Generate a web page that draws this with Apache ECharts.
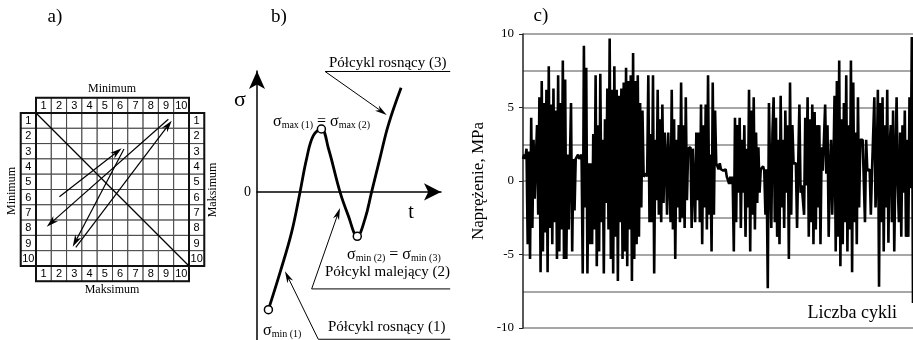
<!DOCTYPE html>
<html>
<head>
<meta charset="utf-8">
<script src="https://cdn.jsdelivr.net/npm/echarts@6.0.0/dist/echarts.min.js"></script>
<style>
  html, body { margin: 0; padding: 0; background: #fff; }
  #chart { width: 913px; height: 340px; }
</style>
</head>
<body>
<div id="chart"></div>
<script>
var SERIF = '"Liberation Serif", "Times New Roman", serif';
var SANS = '"Liberation Sans", Arial, sans-serif';

// a) rainflow matrix: labels 1..10 and the loop path (cell units)
var matrixLabels = ['1', '2', '3', '4', '5', '6', '7', '8', '9', '10'];
var matrixArrows = [
  [1.53, 5.47, 5.60, 2.31, 1],
  [5.75, 2.35, 2.40, 8.74, 1],
  [2.60, 8.78, 8.87, 0.50, 1],
  [8.65, 0.41, 0.70, 7.43, 1],
  [0, 0, 10, 10, 0]
];
var matrixBlocks = [
  [0, 0, 10, 10],
  [0, -1, 10, 0],
  [0, 10, 10, 11],
  [-1, 0, 0, 10],
  [10, 0, 11, 10]
];

// b) half-cycles sketch
var cycleT = [0.62, 1.25, 1.88, 2.34, 2.70, 3.06, 3.50, 3.88, 4.51, 4.96, 5.45, 5.87, 6.23, 6.68, 7.14, 7.83];
var cycleSigma = [-4.77, -3.27, -1.64, 0, 1.36, 2.28, 2.55, 1.77, 0, -0.96, -1.80, -1.09, 0, 1.36, 2.72, 4.22];
var extremaT = [0.62, 3.50, 5.45];
var extremaSigma = [-4.77, 2.55, -1.80];
var leaderLines = [
  [3.70, 4.88, 10.5, 4.88, 0],
  [3.70, 4.88, 7.05, 3.12, 1],
  [2.97, -3.93, 10.5, -3.93, 0],
  [2.97, -3.93, 4.51, -0.65, 1],
  [3.33, -5.97, 10.5, -5.97, 0],
  [3.33, -5.97, 1.52, -3.21, 1]
];

// c) measured stress history, MPa
var stressValues = [
  1.5, 1.8, 1.5, 2.2, -4.3, 2.0, -5.3, 4.3, -3.2, 2.8, -1.2, 1.5,
  3.8, -2.3, 5.7, -6.2, 6.8, -4.8, 5.3, -3.5, 6.2, -6.2, 7.8, -3.2, 5.2, -4.3, 6.3, -2.8, 4.8, -5.3, 7.2, -4.8, 5.3, -3.3, 8.2,
  -5.3, 6.9, -5.3, 1.8, -3.3, 1.2, 5.3, -4.8, 1.5, -2.0,
  1.5, 1.5, 1.8, 1.5, 1.5, 1.8,
  -6.3, 9.2, -1.8, 7.7, -6.3, 1.2,
  -4.3, 1.2, -4.3, 3.2, -3.3, 7.2, -5.8, 3.8, -4.8, 7.3, -2.8, 2.8, -6.3, 4.2, -1.5, 6.3, -3.3,
  9.7, -5.3, 6.2, -6.3, 7.8, -3.8, 6.2, -6.8, 5.8, -2.8, 6.3, -5.3, 6.7, -4.8, 7.7, -5.8, 6.8, -3.3, 7.2, -6.8, 8.7, -5.3, 6.8, -4.3, 7.2, -3.8, 5.3, -1.8, 4.8,
  0.3, 0.3, 0.5, 0.3,
  7.2, -2.8, 3.2, -2.8, 7.2, -6.3, 2.8, -1.3, 6.2, -2.3, 4.2,
  -2.8, 5.2, -1.5, 3.3, 1.5, -2.3, 3.3, 3.2, -2.8, 6.2, -3.3, 4.2, -5.3, 2.8, -1.8, 3.8, -2.8, 6.7, -2.5, 3.8, -3.2, 5.7, -1.3, 2.2, 2.2, 2.3, -3.2, 2.2,
  2.2, -2.8, 3.3, -1.3, 3.3, -2.8, 5.2, -4.3, 3.8, -1.8, 5.2, -3.3, 7.2, -2.3, 1.8, -4.8, 6.7, -2.3, 4.8, 1.2,
  1.2, 0.8, 1.2, 0.8, 0.8, 0.7, 0.7, 0.8, 0.3, 0.3, -0.2, 0.3, -0.2, 0.3,
  -4.8, 4.3, -2.8, 3.8, -0.8, 4.3, -3.2, 2.8, -0.8, 3.8, -3.8, 2.2, -1.8, 6.2, -4.8, 4.8, -2.3, 5.7, -3.3, 3.3, -1.5, 2.3, -0.8,
  0.8, 0.7, 1.0, 0.7, -2.3, 0.8, -7.3, 5.3, 0.7,
  -3.2, 3.3, 5.7, -2.8, 4.3, -3.8, 2.8, -4.3, 5.8, -1.8, 2.8, -3.2, 4.8, -0.8, 3.8, -5.3, 6.7, -2.3, 3.8, 1.2,
  1.2, 1.2, -3.2, 1.2, 5.2, -0.8, -0.3, -0.3, -2.3, 4.3, -0.3,
  5.7, -3.8, 4.2, -2.8, 5.2, -4.3, 4.7, -3.3, 3.8, -1.8, 3.8, -4.3, 2.3, 0.7, 0.7, 5.2, 0.5, 3.8, -3.8, 0.7, 2.8, -2.3, 0.7,
  5.8, -4.8, 6.8, -3.8, 8.2, -5.8, 4.2, -4.3, 5.3, -2.8, 7.2, -4.8, 3.8, -3.3, 8.2, -6.2, 6.7, -2.8, 3.3, -4.3, 5.7, -1.8, 2.8,
  2.7, 2.8, 2.7, -2.8, 2.8, 0.7, 0.7, 0.8, -2.3, 0.7, 0.7,
  5.7, -1.8, 0.7, 6.2, -7.2, 5.3, -2.8, 5.7, -4.8, 3.8, -1.8, 6.2, -4.2, 2.2, 3.8, -2.8, 4.8, -4.8, 1.2, 5.7, -0.3, -2.8, 3.3, -3.8, 3.8, -0.8, 4.8, -3.8, 2.8, -3.8, 5.7, -0.5,
  9.8, -8.3
];
var stressTicks = [-10, -5, 0, 5, 10];

// matrix cells: headers on four sides plus the 10x10 body
var cells = [];
matrixLabels.forEach(function (lab, i) {
  cells.push([i, -1, lab]);
  cells.push([i, 10, lab]);
  cells.push([-1, i, lab]);
  cells.push([10, i, lab]);
  for (var j = 0; j < 10; j++) cells.push([i, j, '']);
});

function rectOf(api, x0, y0, x1, y1) {
  var p0 = api.coord([x0, y0]);
  var p1 = api.coord([x1, y1]);
  return {
    x: Math.min(p0[0], p1[0]), y: Math.min(p0[1], p1[1]),
    width: Math.abs(p1[0] - p0[0]), height: Math.abs(p1[1] - p0[1])
  };
}

function renderCell(params, api) {
  var c = cells[params.dataIndex];
  var r = rectOf(api, c[0], c[1], c[0] + 1, c[1] + 1);
  return {
    type: 'group',
    children: [
      { type: 'rect', shape: r, style: { fill: '#fff', stroke: '#444', lineWidth: 1 } },
      {
        type: 'text',
        style: {
          text: c[2], x: r.x + r.width / 2, y: r.y + r.height / 2 + 0.5,
          align: 'center', verticalAlign: 'middle',
          fontFamily: SANS, fontSize: 11, fill: '#000'
        }
      }
    ]
  };
}

function renderBlock(params, api) {
  var b = matrixBlocks[params.dataIndex];
  return { type: 'rect', shape: rectOf(api, b[0], b[1], b[2], b[3]), style: { fill: null, stroke: '#111', lineWidth: 2 } };
}

function arrowRenderer(segments, lineWidth, headLen, headHalf) {
  return function (params, api) {
    var s = segments[params.dataIndex];
    var p0 = api.coord([s[0], s[1]]);
    var p1 = api.coord([s[2], s[3]]);
    var children = [];
    var end = p1;
    if (s[4]) {
      var dx = p1[0] - p0[0], dy = p1[1] - p0[1];
      var len = Math.sqrt(dx * dx + dy * dy);
      var ux = dx / len, uy = dy / len;
      var bx = p1[0] - ux * headLen, by = p1[1] - uy * headLen;
      var nx = -uy * headHalf, ny = ux * headHalf;
      end = [p1[0] - ux * headLen * 0.7, p1[1] - uy * headLen * 0.7];
      children.push({ type: 'polygon', shape: { points: [p1, [bx + nx, by + ny], end, [bx - nx, by - ny]] }, style: { fill: '#000' } });
    }
    children.unshift({ type: 'line', shape: { x1: p0[0], y1: p0[1], x2: end[0], y2: end[1] }, style: { stroke: '#000', lineWidth: lineWidth } });
    return { type: 'group', children: children };
  };
}

function sigmaText(x, y, parts) {
  var text = parts.map(function (p) { return '{' + p[0] + '|' + p[1] + '}'; }).join('');
  return {
    type: 'text', x: x, y: y,
    style: {
      text: text, align: 'left', verticalAlign: 'middle', fill: '#000',
      rich: {
        s: { fontFamily: SERIF, fontSize: 16, fill: '#000', verticalAlign: 'bottom', lineHeight: 18 },
        sub: { fontFamily: SERIF, fontSize: 10, fill: '#000', verticalAlign: 'bottom', lineHeight: 18 }
      }
    }
  };
}

function label(x, y, text, size, rot) {
  return {
    type: 'text', x: x, y: y, rotation: rot || 0,
    style: { text: text, align: 'center', verticalAlign: 'middle', fontFamily: SERIF, fontSize: size, fill: '#000' }
  };
}

var chart = echarts.init(document.getElementById('chart'));

var option = {
  animation: false,
  backgroundColor: '#fff',
  grid: [
    { left: 20.7, top: 97.7, width: 183.6, height: 183.6 },
    { left: 257, top: 71, width: 184, bottom: 0 },
    { left: 523, top: 34, width: 390, height: 294 }
  ],
  xAxis: [
    { gridIndex: 0, type: 'value', min: -1, max: 11, show: false },
    {
      gridIndex: 1, type: 'value', min: 0, max: 10,
      axisLine: { onZero: true, symbol: ['none', 'arrow'], symbolSize: [13, 17], lineStyle: { color: '#000', width: 1.5 } },
      axisTick: { show: false }, axisLabel: { show: false }, splitLine: { show: false }
    },
    {
      gridIndex: 2, type: 'value', min: 0, max: stressValues.length - 1,
      axisLine: { show: false }, axisTick: { show: false }, axisLabel: { show: false }, splitLine: { show: false }
    }
  ],
  yAxis: [
    { gridIndex: 0, type: 'value', min: -1, max: 11, inverse: true, show: false },
    {
      gridIndex: 1, type: 'value', min: -6, max: 4.9, interval: 1,
      axisLine: { symbol: ['none', 'arrow'], symbolSize: [12, 18], lineStyle: { color: '#000', width: 1.5 } },
      axisTick: { show: false }, splitLine: { show: false },
      axisLabel: {
        margin: 6, fontFamily: SERIF, fontSize: 14, color: '#000',
        formatter: function (v) { return v === 0 ? '0' : ''; }
      }
    },
    {
      gridIndex: 2, type: 'value', position: 'left', min: -10, max: 10, interval: 2.5,
      axisLine: { show: false }, axisTick: { show: false }, axisLabel: { show: false },
      splitLine: { show: true, lineStyle: { color: '#8a8a8a', width: 1.5 } }
    },
    {
      gridIndex: 2, type: 'value', position: 'left', offset: 0,
      min: stressTicks[0], max: stressTicks[stressTicks.length - 1], interval: 5,
      name: 'Naprężenie, MPa', nameLocation: 'middle', nameGap: 36,
      nameTextStyle: { fontFamily: SERIF, fontSize: 17, color: '#000' },
      axisLine: { show: true, lineStyle: { color: '#222', width: 1.5 } },
      axisTick: { show: true, length: 4, lineStyle: { color: '#222' } },
      axisLabel: { margin: 9, fontFamily: SERIF, fontSize: 13, color: '#000' },
      splitLine: { show: false }
    }
  ],
  series: [
    {
      type: 'custom', xAxisIndex: 0, yAxisIndex: 0, z: 1,
      data: cells.map(function (c) { return [c[0], c[1]]; }),
      encode: { x: 0, y: 1 },
      renderItem: renderCell
    },
    {
      type: 'custom', xAxisIndex: 0, yAxisIndex: 0, z: 2,
      data: matrixBlocks,
      encode: { x: [0, 2], y: [1, 3] },
      renderItem: renderBlock
    },
    {
      type: 'custom', xAxisIndex: 0, yAxisIndex: 0, z: 3,
      data: matrixArrows.map(function (s) { return s.slice(0, 4); }),
      encode: { x: [0, 2], y: [1, 3] },
      renderItem: arrowRenderer(matrixArrows, 1.2, 12, 3.5)
    },
    {
      type: 'line', xAxisIndex: 1, yAxisIndex: 1, z: 3,
      data: cycleT.map(function (t, i) { return [t, cycleSigma[i]]; }),
      smooth: 0.4, showSymbol: false,
      lineStyle: { color: '#000', width: 2.8 }
    },
    {
      type: 'scatter', xAxisIndex: 1, yAxisIndex: 1, z: 4,
      data: extremaT.map(function (t, i) { return [t, extremaSigma[i]]; }),
      symbol: 'circle', symbolSize: 8,
      itemStyle: { color: '#fff', borderColor: '#000', borderWidth: 1.5, opacity: 1 }
    },
    {
      type: 'custom', xAxisIndex: 1, yAxisIndex: 1, z: 3, clip: false,
      data: leaderLines.map(function (s) { return s.slice(0, 4); }),
      encode: { x: [0, 2], y: [1, 3] },
      renderItem: arrowRenderer(leaderLines, 1, 12, 3.2)
    },
    {
      type: 'line', xAxisIndex: 2, yAxisIndex: 2, z: 3,
      data: stressValues.map(function (v, i) { return [i, v]; }),
      showSymbol: false,
      lineStyle: { color: '#000', width: 2.6, join: 'bevel' }
    }
  ],
  graphic: [
    label(55, 17, 'a)', 19),
    label(112, 89, 'Minimum', 12),
    label(112, 290, 'Maksimum', 12),
    label(12, 191, 'Minimum', 12, Math.PI / 2),
    label(213, 190, 'Maksimum', 12, Math.PI / 2),
    label(279, 17, 'b)', 19),
    label(240, 100, 'σ', 22),
    label(411, 213, 't', 20),
    sigmaText(273, 121, [['s', 'σ'], ['sub', 'max (1)'], ['s', ' = σ'], ['sub', 'max (2)']]),
    sigmaText(347, 254, [['s', 'σ'], ['sub', 'min (2)'], ['s', ' = σ'], ['sub', 'min (3)']]),
    sigmaText(263, 330, [['s', 'σ'], ['sub', 'min (1)']]),
    { type: 'text', x: 329, y: 63, style: { text: 'Półcykl rosnący (3)', align: 'left', verticalAlign: 'middle', fontFamily: SERIF, fontSize: 15, fill: '#000' } },
    { type: 'text', x: 325, y: 272, style: { text: 'Półcykl malejący (2)', align: 'left', verticalAlign: 'middle', fontFamily: SERIF, fontSize: 15, fill: '#000' } },
    { type: 'text', x: 328, y: 327, style: { text: 'Półcykl rosnący (1)', align: 'left', verticalAlign: 'middle', fontFamily: SERIF, fontSize: 15, fill: '#000' } },
    label(541, 16, 'c)', 19),
    { type: 'text', x: 897, y: 313, style: { text: 'Liczba cykli', align: 'right', verticalAlign: 'middle', fontFamily: SERIF, fontSize: 18, fill: '#000' } }
  ]
};

chart.setOption(option);
</script>
</body>
</html>
